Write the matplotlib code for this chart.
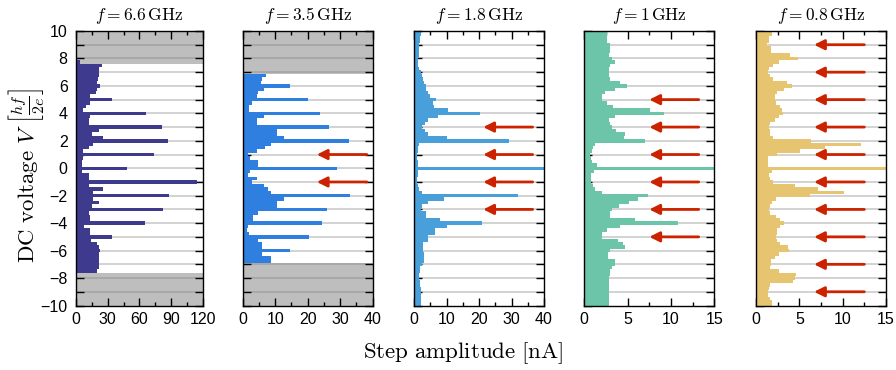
import numpy as np
import matplotlib
matplotlib.use('Agg')
import matplotlib.pyplot as plt
from matplotlib.ticker import MultipleLocator

plt.rcParams['font.family'] = ['Liberation Sans', 'DejaVu Sans']
plt.rcParams['mathtext.fontset'] = 'cm'

# bin centres of the DC voltage axis, top to bottom (units of hf/2e)
voltage = np.linspace(10, -10, 81)

# step amplitude [nA], one value per bin, from V = 10 down to V = -10
amp_66 = [0, 0, 0, 0,   0, 0, 0, 0,   0, 4, 25, 22,   22, 22, 21, 20,
          23, 20, 19, 13,   34, 13, 9, 7,   66, 13, 12, 12,   81, 22, 15, 26,
          87, 16, 12, 7,   74, 7, 6, 6,   48, 6, 12, 12,   115, 12, 26, 16,
          88, 16, 22, 15,   82, 12, 13, 13,   65, 8, 13, 13,   34, 14, 20, 22,
          23, 22, 22, 22,   22, 22, 20, 0,   0, 0, 0, 0,   0, 0, 0, 0,   0]
amp_35 = [.4, .4, .4, .4,   .4, .4, .4, .4,   .4, .4, .4, .4,   .4, 7.2, 5.8, 5.5,
          14.6, 6.7, 4.8, 4.5,   20.2, 2.8, 2.0, 2.0,   23.8, 6.4, 4.3, 4.5,
          26.4, 10.5, 10.5, 12.8,   32.8, 8.7, 6.9, 4.3,   1.7, 2.3, 4.6, 4.6,
          28.9, 2.3, 1.7, 4.3,   3.0, 6.7, 7.9, 8.7,   33, 12.8, 10.5, 10.5,
          25.8, 4.6, 3.3, 3.3,   24.3, 1.7, 1.2, 2.0,   20.4, 4.8, 6.0, 6.0,
          14.6, 5.8, 8.7, 8.7,   .4, .4, .4, .4,   .4, .4, .4, .4,   .4, .4, .4, .4,   .4]
amp_18 = [2.0, 2.0, 1.9, 1.8,   1.6, 1.5, 1.5, 1.4,   1.3, 1.2, 1.3, 1.4,
          2.0, 2.6, 2.9, 3.0,   3.6, 3.8, 4.4, 5.0,   6.8, 5.9, 6.0, 10.6,
          20.3, 7.3, 4.4, 3.3,   2.4, 3.5, 4.4, 10.0,   29.2, 1.5, 1.2, 1.1,
          1.0, 1.0, 1.1, 1.3,   41, 1.2, 1.1, 1.0,   1.0, 1.2, 1.5, 2.5,
          31.9, 9.3, 4.4, 2.6,   2.0, 3.6, 3.6, 8.0,   20.8, 10.0, 6.5, 6.5,
          4.4, 4.4, 2.9, 2.9,   2.9, 3.1, 3.0, 3.0,   2.4, 1.8, 1.8, 1.6,
          1.6, 1.7, 1.8, 2.0,   2.0, 2.0, 2.0, 2.0,   2.0]
amp_10 = [2.6, 2.6, 2.6, 2.6,   3.0, 3.0, 3.0, 2.8,   3.2, 3.5, 3.0, 2.8,
          2.8, 2.8, 3.0, 4.1,   4.9, 3.5, 2.4, 2.0,   2.0, 2.6, 3.3, 7.6,
          9.2, 3.5, 2.8, 3.0,   3.2, 3.6, 4.7, 4.6,   7.0, 1.2, 1.0, 0.9,
          0.7, 0.8, 0.9, 1.5,   15.5, 1.1, 0.8, 0.8,   0.8, 1.0, 1.2, 2.0,
          7.3, 6.2, 5.1, 4.0,   3.2, 3.0, 3.0, 5.8,   10.8, 4.1, 2.6, 2.0,
          2.0, 3.9, 4.5, 4.7,   3.0, 2.7, 2.7, 3.5,   3.5, 3.2, 3.0, 3.0,
          2.8, 2.8, 2.8, 2.8,   2.8, 2.8, 2.8, 2.8,   2.8]
amp_08 = [1.8, 1.8, 1.5, 1.5,   1.3, 1.7, 1.7, 3.9,   4.9, 2.6, 2.0, 1.5,
          1.4, 1.6, 2.0, 3.6,   4.1, 3.2, 2.4, 2.2,   2.2, 2.3, 2.8, 3.0,
          3.1, 2.6, 2.2, 1.6,   1.5, 1.6, 1.6, 2.0,   6.3, 12.1, 8.0, 5.1,
          2.4, 1.4, 1.4, 1.4,   15.5, 1.8, 1.5, 1.6,   2.0, 4.5, 7.1, 10.2,
          6.2, 2.3, 1.8, 1.6,   1.5, 1.6, 2.3, 2.8,   3.2, 2.8, 2.4, 2.4,
          2.3, 2.4, 2.8, 3.7,   3.8, 2.6, 2.2, 1.7,   1.7, 1.6, 2.6, 4.6,
          4.5, 4.3, 1.6, 1.5,   1.4, 1.4, 1.6, 1.8,   1.8]

titles = [r'$f = 6.6\,\mathrm{GHz}$', r'$f = 3.5\,\mathrm{GHz}$',
          r'$f = 1.8\,\mathrm{GHz}$', r'$f = 1\,\mathrm{GHz}$',
          r'$f = 0.8\,\mathrm{GHz}$']
amps = [amp_66, amp_35, amp_18, amp_10, amp_08]
colors = ['#3e3a8e', '#2f7fe0', '#489fd9', '#6cc4a9', '#e6c470']
xmax = [120, 40, 40, 15, 15]
xmajor = [30, 10, 10, 5, 5]
gray_limit = [7.6, 6.875, None, None, None]   # |V| beyond this is shaded

# red arrows: voltages and (tail, tip) amplitudes
arrow_v = [[], [1, -1], [3, 1, -1, -3], [5, 3, 1, -1, -3, -5],
           [9, 7, 5, 3, 1, -1, -3, -5, -7, -9]]
arrow_x = [None, (38.2, 22.8), (36.5, 21.3), (13.2, 7.5), (12.5, 6.7)]

# axes boxes in pixels (left, width)
lefts = [76, 242.7, 414, 584.3, 756]
widths = [126.7, 130, 130, 130, 130]
W, H = 896, 370
top, bot = 31, 305.5

fig = plt.figure(figsize=(W / 100, H / 100), dpi=100)

for i in range(5):
    ax = fig.add_axes([lefts[i] / W, 1 - bot / H, widths[i] / W, (bot - top) / H])
    ax.set_xlim(0, xmax[i])
    ax.set_ylim(-10, 10)

    if gray_limit[i] is not None:
        ax.axhspan(gray_limit[i], 10, color='#bebebe', lw=0, zorder=0)
        ax.axhspan(-10, -gray_limit[i], color='#bebebe', lw=0, zorder=0)

    for v in range(-9, 10):
        ax.axhline(v, color='gray', alpha=0.45, lw=1.1, zorder=1)

    ax.barh(voltage, amps[i], height=0.25, color=colors[i], lw=0, zorder=2)

    if arrow_x[i] is not None:
        for v in arrow_v[i]:
            ax.annotate('', xy=(arrow_x[i][1], v), xytext=(arrow_x[i][0], v),
                        arrowprops=dict(arrowstyle='-|>', color='#cc2200', lw=2,
                                        mutation_scale=15, shrinkA=0, shrinkB=0),
                        zorder=3)

    ax.xaxis.set_major_locator(MultipleLocator(xmajor[i]))
    ax.xaxis.set_minor_locator(MultipleLocator(xmajor[i] / 2))
    ax.yaxis.set_minor_locator(MultipleLocator(1))
    ax.tick_params(which='both', direction='in', top=True, right=True,
                   labelsize=11.5, width=1, color='black')
    ax.tick_params(axis='x', which='major', length=6, pad=5)
    ax.tick_params(axis='x', which='minor', length=3)
    ax.tick_params(axis='y', which='both', length=5.5, pad=6)
    ax.set_yticks(range(-10, 11, 2))
    if i == 0:
        ax.set_yticklabels([str(v).replace('-', '\u2212') for v in range(-10, 11, 2)])
    else:
        ax.set_yticklabels([])
    for s in ax.spines.values():
        s.set_linewidth(1)
    ax.set_title(titles[i], fontsize=12.5, pad=8)

fig.text(26 / W, 1 - 176 / H, r'$\mathrm{DC\ voltage}\ V\ \left[\frac{hf}{2e}\right]$',
         rotation=90, ha='center', va='center', fontsize=16.5)
fig.text(463 / W, 1 - 353 / H, r'$\mathrm{Step\ amplitude\ [nA]}$',
         ha='center', va='center', fontsize=16.5)

fig.savefig('out.png', dpi=100)
